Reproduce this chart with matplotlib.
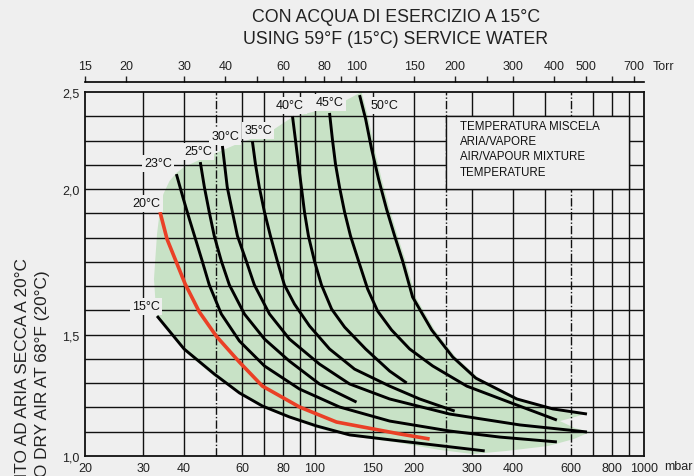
import numpy as np
import matplotlib
matplotlib.use('Agg')
import matplotlib.pyplot as plt
from matplotlib.patches import Rectangle
from matplotlib.ticker import NullLocator, NullFormatter

plt.rcParams['font.family'] = ['Liberation Sans', 'DejaVu Sans']

# ---- axis values ----
mbar_ticks = [20, 30, 40, 60, 80, 100, 150, 200, 300, 400, 600, 800, 1000]
torr_ticks = [15, 20, 30, 40, 60, 80, 100, 150, 200, 300, 400, 500, 700]
torr_minor = [50, 70, 90, 250, 600]
y_ticks = [1.0, 1.5, 2.0, 2.5]
y_labels = ['1,0', '1,5', '2,0', '2,5']
grid_mbar = [30, 40, 50, 60, 70, 80, 90, 100, 150, 200, 250, 300,
             400, 500, 600, 700, 800, 900]

# the printed ruling is uneven: 5 rows 1.0-1.5, 6 rows 1.5-2.0, 4 rows 2.0-2.5
scale_vals = [0.0, 1.0, 1.5, 2.0, 2.5, 3.5]
scale_rows = [-10, 0, 5, 11, 15, 23]

# ---- curves (pressure mbar, factor) ----
t15_p = [33.1, 40.0, 49.4, 58.9, 69.2, 83.6, 101.0, 127.3, 180.8, 328]
t15_f = [1.564, 1.441, 1.338, 1.260, 1.206, 1.161, 1.124, 1.087, 1.062, 1.021]

t20_p = [33.8, 35.5, 40.3, 44.5, 50.1, 58.9, 69.2, 89.7, 116.2, 180.8, 223]
t20_f = [1.921, 1.828, 1.674, 1.578, 1.494, 1.387, 1.288, 1.202, 1.140, 1.091, 1.070]

t23_p = [37.9, 39.8, 41.5, 43.6, 45.4, 47.7, 51.9, 58.9, 70.2, 89.7, 118.7,
         168.6, 256.6, 364.5, 543.5]
t23_f = [2.077, 1.966, 1.897, 1.818, 1.753, 1.671, 1.571, 1.474, 1.371, 1.276,
         1.202, 1.144, 1.103, 1.078, 1.058]

t25_p = [44.8, 46.1, 47.7, 49.4, 51.9, 54.9, 61.0, 70.2, 83.6, 103.1, 133.7]
t25_f = [2.139, 2.010, 1.921, 1.839, 1.753, 1.671, 1.571, 1.482, 1.391, 1.297, 1.222]

t30_p = [52.3, 54.1, 56.1, 58.1, 61.8, 65.4, 72.7, 83.6, 103.1, 127.3, 168.6,
         256.6, 419.4, 670.8]
t30_f = [2.222, 2.010, 1.921, 1.839, 1.753, 1.671, 1.571, 1.482, 1.379, 1.297,
         1.235, 1.173, 1.128, 1.099]

t35_p = [64.5, 65.9, 67.7, 70.2, 73.2, 76.8, 80.7, 86.6, 96.2, 110.7, 131.9,
         168.6, 208.0, 265.8]
t35_f = [2.247, 2.129, 2.010, 1.921, 1.839, 1.753, 1.671, 1.605, 1.530, 1.441,
         1.358, 1.288, 1.235, 1.185]

t40_p = [85.4, 87.2, 89.0, 90.9, 92.9, 95.5, 99.6, 104.6, 112.3, 123.0, 142.5,
         168.6, 189.9]
t40_f = [2.376, 2.253, 2.129, 2.010, 1.921, 1.839, 1.753, 1.671, 1.588, 1.526,
         1.441, 1.350, 1.301]

t45_p = [110.7, 113.0, 115.4, 118.7, 123.0, 128.2, 135.6, 144.5, 155.0, 170.9,
         193.9, 227.9, 289.3, 410.6, 543.5]
t45_f = [2.392, 2.253, 2.129, 2.010, 1.921, 1.839, 1.753, 1.657, 1.581, 1.516,
         1.441, 1.371, 1.288, 1.210, 1.148]

t50_p = [136.6, 142.5, 148.6, 156.0, 165.0, 174.6, 184.6, 198.0, 226.3, 262.1,
         308.1, 410.6, 528.5, 670.8]
t50_f = [2.484, 2.361, 2.206, 2.052, 1.931, 1.839, 1.753, 1.629, 1.516, 1.408,
         1.321, 1.235, 1.194, 1.173]

# shaded field
zone_p = [33.1, 32.7, 32.4, 32.7, 33.1, 33.8, 34.6, 36.1, 37.9, 40.0, 44.5, 50.1,
          58.9, 67.7, 75.2, 85.4, 101.0, 110.7, 138.5, 145.5, 151.7, 159.4, 168.6,
          178.3, 188.6, 202.3, 231.1, 267.7, 314.7, 419.4, 539.7, 675.5, 603.8,
          555.1, 616.7, 685.1, 612.4, 510.3, 382.8, 301.7, 239.4, 180.8, 127.3,
          101.0, 69.2, 50.1, 40.0]
zone_f = [1.561, 1.622, 1.691, 1.760, 1.846, 1.931, 1.983, 2.041, 2.083, 2.113,
          2.150, 2.186, 2.237, 2.273, 2.309, 2.371, 2.402, 2.412, 2.500, 2.361,
          2.206, 2.052, 1.931, 1.839, 1.753, 1.629, 1.516, 1.408, 1.321, 1.235,
          1.194, 1.177, 1.157, 1.144, 1.115, 1.099, 1.070, 1.041, 1.021, 1.008,
          1.025, 1.054, 1.082, 1.115, 1.198, 1.321, 1.433]

curves = [('15°C', t15_p, t15_f), ('20°C', t20_p, t20_f), ('23°C', t23_p, t23_f),
          ('25°C', t25_p, t25_f), ('30°C', t30_p, t30_f), ('35°C', t35_p, t35_f),
          ('40°C', t40_p, t40_f), ('45°C', t45_p, t45_f), ('50°C', t50_p, t50_f)]

# label positions in pixels of the 694x477 picture
label_xy = {'15°C': (146, 307), '20°C': (146, 204), '23°C': (158, 164),
            '25°C': (198, 152), '30°C': (225, 137), '35°C': (258, 131),
            '40°C': (290, 106), '45°C': (330, 103), '50°C': (384, 106)}

BG = '#efefef'
GREEN = '#c8e2c6'
RED = '#ea4026'
INK = '#111111'

W, H = 694, 477


def fx(x):
    return x / W


def fy(y):
    return 1 - y / H


def fwd(v):
    return np.interp(v, scale_vals, scale_rows)


def inv(r):
    return np.interp(r, scale_rows, scale_vals)


fig = plt.figure(figsize=(W / 100, H / 100), dpi=100, facecolor=BG)
ax = fig.add_axes([fx(85), 20 / H, 559 / W, 364 / H])
ax.set_facecolor(BG)
ax.set_xscale('log')
ax.set_yscale('function', functions=(fwd, inv))
ax.set_xlim(19.99, 1000)
ax.set_ylim(1.0, 2.5)

ax.fill(zone_p, zone_f, color=GREEN, lw=0, zorder=0.5)

for r in range(1, 15):
    ax.axhline(inv(r), color=INK, lw=1.0, zorder=1)
for m in grid_mbar:
    ls = (0, (6, 1.5, 1, 1.5)) if m in (50, 250, 600) else '-'
    ax.axvline(m, color=INK, lw=1.0, ls=ls, zorder=1)

# box of the legend text, grid removed inside
ax.add_patch(Rectangle((250, inv(11)), 650, inv(14) - inv(11), fc=BG,
                       ec=INK, lw=1.0, zorder=1.5))

for name, p, f in curves:
    if name == '20°C':
        ax.plot(p, f, color=RED, lw=2.6, zorder=3, solid_capstyle='butt')
    else:
        ax.plot(p, f, color='black', lw=2.1, zorder=3, solid_capstyle='butt')
    lx, ly = label_xy[name]
    fig.text(fx(lx), fy(ly), name, ha='center', va='center', fontsize=9,
             color=INK, zorder=5,
             bbox=dict(boxstyle='square,pad=0.2', fc=BG, ec='none'))

for s in ax.spines.values():
    s.set_linewidth(1.3)
    s.set_color(INK)

ax.set_xticks(mbar_ticks)
ax.set_xticklabels([str(v) for v in mbar_ticks])
ax.xaxis.set_minor_locator(NullLocator())
ax.set_yticks(y_ticks)
ax.set_yticklabels(y_labels)
ax.yaxis.set_minor_locator(NullLocator())
ax.tick_params(axis='both', length=0, labelsize=9, colors='#222222')
ax.tick_params(axis='x', pad=4)
ax.tick_params(axis='y', pad=4)

sec = ax.secondary_xaxis(1 + 10 / 364, functions=(lambda m: m * 0.750062,
                                                 lambda t: t / 0.750062))
sec.set_xticks(torr_ticks)
sec.set_xticklabels([str(v) for v in torr_ticks])
sec.set_xticks(torr_minor, minor=True)
sec.xaxis.set_minor_formatter(NullFormatter())
sec.tick_params(which='both', direction='out', length=4, width=1.0,
                labelsize=9, pad=3, colors='#222222')
sec.spines['top'].set_linewidth(1.2)

fig.text(fx(664), fy(67), 'Torr', ha='center', va='center', fontsize=9,
         color='#222222')
fig.text(fx(678), fy(467), 'mbar', ha='center', va='center', fontsize=9,
         color='#222222')

fig.text(fx(396), fy(18), 'CON ACQUA DI ESERCIZIO A 15°C', ha='center',
         va='center', fontsize=12.8, color='#222222')
fig.text(fx(396), fy(40), 'USING 59°F (15°C) SERVICE WATER', ha='center',
         va='center', fontsize=12.8, color='#222222')

# axis title, cut by the lower edge as in the printed sheet
fig.text(fx(23), fy(258), 'FATTORE DI CORREZIONE RIFERITO AD ARIA SECCA A 20°C',
         rotation=90, ha='center', va='top', fontsize=12.4, color='#222222')
fig.text(fx(43), fy(270), 'CORRECTION FACTOR REFERRED TO DRY AIR AT 68°F (20°C)',
         rotation=90, ha='center', va='top', fontsize=12.4, color='#222222')

fig.text(fx(460), fy(121), 'TEMPERATURA MISCELA\nARIA/VAPORE\nAIR/VAPOUR MIXTURE\nTEMPERATURE',
         ha='left', va='top', fontsize=8.3, linespacing=1.36, color=INK)

fig.savefig('out.png', dpi=100, facecolor=BG)
